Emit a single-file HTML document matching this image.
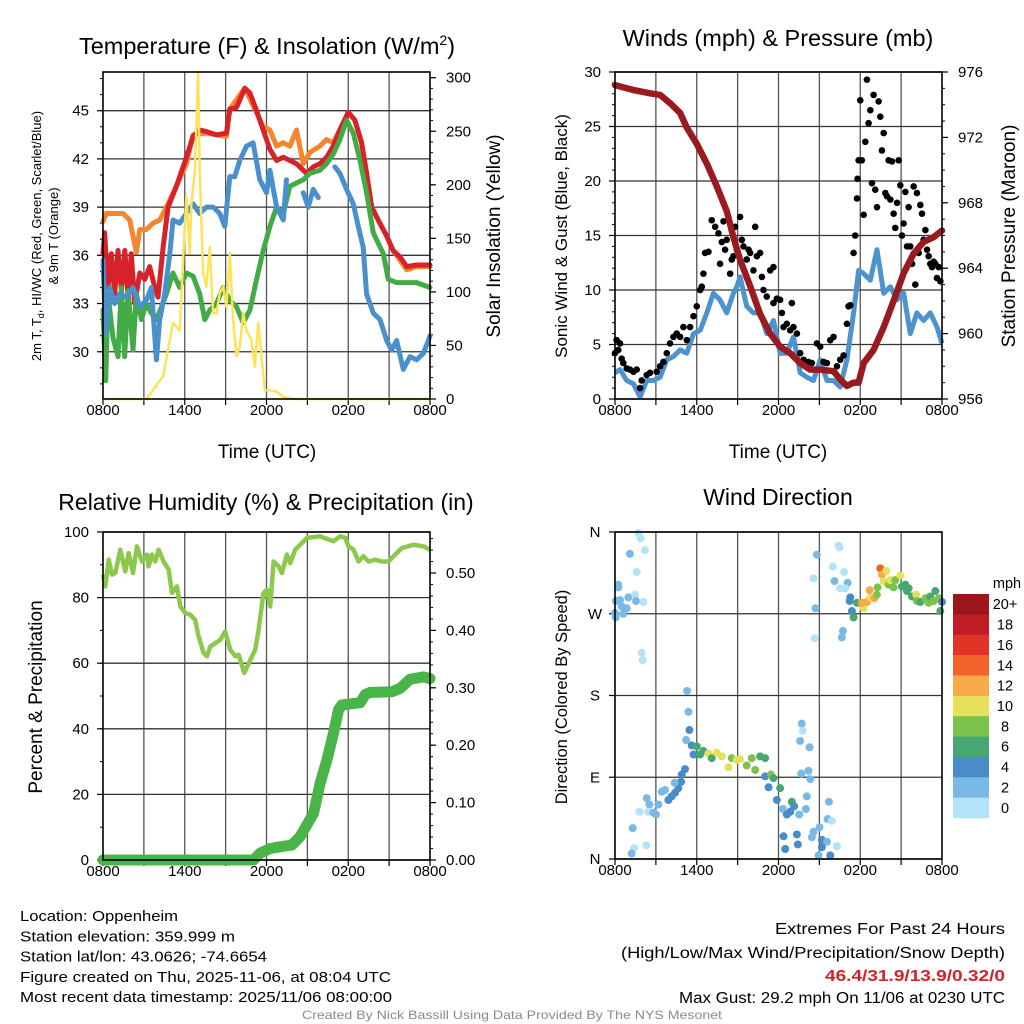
<!DOCTYPE html>
<html><head><meta charset="utf-8"><style>
html,body{margin:0;padding:0;background:#fff;}
svg{display:block;font-family:"Liberation Sans",Arial,sans-serif;}
</style></head>
<body>
<svg id="chart" width="1024" height="1024" viewBox="0 0 1024 1024" xmlns="http://www.w3.org/2000/svg"></svg>
<script>
// ---------- Panel 1 data ----------
const xTickLabels = ["0800","1400","2000","0200","0800"];
const redH = [0,0.12,0.37,0.61,0.86,1.1,1.35,1.6,1.84,2.08,2.33,2.7,3.06,3.43,3.8,4.04,4.41,4.78,5.39,6.12,6.61,7.1,7.59,8.33,9.06,9.31,9.8,10.41,10.78,11.27,11.76,12.25,12.74,13.23,13.72,14.2,14.94,15.43,15.92,16.41,16.9,17.39,18.0,18.49,18.98,19.35,19.72,20.2,20.82,21.29,21.8,22.29,23.02,24];
const redT = [36.1,37.4,34.0,36.1,33.6,36.3,33.8,36.3,33.4,36.1,33.0,34.9,34.5,35.3,34.0,33.4,36.5,39.0,40.3,42.1,43.4,43.8,43.7,43.5,43.6,45.1,45.2,46.4,46.1,45.0,43.8,42.6,41.9,42.1,41.9,41.7,41.1,41.5,41.7,42.1,42.8,43.8,44.9,44.4,43.0,41.1,39.0,38.2,37.2,36.3,35.9,35.3,35.4,35.4];
const orgH = [0,0.24,0.98,1.47,1.96,2.2,2.45,2.7,3.18,3.67,4.16,4.65,5.39,6.12,6.61,7.59,9.06,9.31,10.41,11.76,12.25,12.74,13.23,13.72,14.2,14.7,15.18,15.92,16.41,16.9,18.0,18.49,18.98,19.35,19.72,20.2,20.82,21.29,21.8,22.29,23.02,24];
const orgT = [38.1,38.6,38.6,38.6,38.2,37.2,36.2,37.6,37.6,38.0,38.2,39.0,40.3,41.7,43.5,43.6,43.4,45.1,46.4,44.0,43.8,42.8,43.0,42.8,43.8,41.7,42.4,42.8,43.2,43.0,44.9,44.4,43.0,41.1,39.0,38.2,37.2,36.3,35.7,35.1,35.3,35.3];
const bluH = [0,0.2,0.49,0.86,1.22,1.71,2.2,2.7,3.18,3.55,3.92,4.16,4.53,4.9,5.14,5.63,6.12,6.61,7.1,7.59,8.08,8.57,8.94,9.31,9.67,10.04,10.53,11.02,11.51,12.0,12.25,12.74,13.23,13.47,null,14.7,15.06,15.43,15.8,null,17.02,17.39,17.88,18.37,18.74,19.1,19.35,19.84,20.33,20.82,21.18,21.55,22.04,22.53,23.02,23.51,23.88,24];
const bluT = [35.7,31.1,34.0,33.0,33.6,33.4,34.0,32.8,33.2,34.0,29.5,32.0,33.6,36.1,38.2,38.0,38.6,39.2,38.6,39.0,39.0,38.6,37.8,40.9,40.9,41.9,42.8,43.0,40.7,39.9,41.3,39.0,38.2,40.7,null,39.9,39.0,40.1,39.6,null,41.5,41.1,40.1,39.2,37.8,36.5,33.6,32.4,32.0,30.7,30.1,30.7,28.9,29.7,29.5,29.9,30.7,31.0];
const grnH = [0,0.2,0.37,0.73,1.1,1.35,1.59,1.84,2.2,2.45,2.82,3.18,3.55,3.92,4.29,4.65,5.14,5.63,6.12,6.61,7.1,7.47,7.84,8.33,8.82,9.31,9.8,10.29,10.78,11.27,11.76,12.25,12.74,13.23,13.72,14.2,14.7,15.18,15.92,16.41,16.9,17.39,17.88,18.37,18.86,19.35,19.84,20.57,20.94,21.55,22.29,23.02,24];
const grnT = [32.6,28.2,33.6,30.9,29.7,34.0,29.7,33.8,30.1,33.6,32.0,33.0,32.4,32.0,32.8,33.6,34.9,34.0,34.9,34.7,33.6,32.0,32.6,33.0,34.0,33.2,32.8,31.8,32.6,34.5,36.3,37.8,39.0,38.6,40.3,40.5,40.7,41.1,41.3,41.7,42.3,43.2,44.4,43.6,41.9,39.9,37.4,36.1,34.5,34.3,34.3,34.3,34.0];
const solH = [0,3.18,3.67,4.04,4.41,4.9,5.14,5.63,5.88,6.12,6.37,6.49,6.74,6.98,7.1,7.35,7.59,7.84,8.08,8.33,8.57,8.82,9.06,9.31,9.55,9.8,10.04,10.29,10.53,10.9,11.14,11.39,11.63,11.88,12.25,12.74,13.23,13.96,24];
const solW = [0,0,8,15,21,55,71,64,130,189,136,183,211,305,214,117,105,142,80,80,99,105,86,136,74,40,49,80,64,55,30,71,40,8,8,7,2,0,0];
const tempTicks = [30,33,36,39,42,45];
const solTicks = [0,50,100,150,200,250,300];
// ---------- Panel 2 data ----------
const presH = [0,1.35,2.57,3.31,4.04,4.78,5.27,6.0,6.74,7.47,8.2,8.69,9.18,9.92,10.65,11.39,12.12,12.86,13.59,14.33,15.06,16.04,16.53,17.02,17.51,17.88,18.25,18.98,19.72,20.45,21.19,21.92,22.65,23.39,24];
const presMb = [975.2,974.9,974.7,974.6,974.1,973.5,972.6,971.6,970.4,969.0,967.5,965.9,964.5,962.9,961.2,960.0,959.2,958.8,958.2,957.8,957.8,957.7,957.2,956.8,957.0,957.0,958.2,959.0,960.4,962.0,963.7,964.9,965.6,965.9,966.3];
const windH = [0,0.37,0.86,1.35,1.84,2.33,2.82,3.31,3.8,4.29,4.78,5.27,5.76,6.25,6.74,7.22,7.71,8.2,8.69,8.94,9.18,9.67,10.16,10.65,11.14,11.63,12.12,12.61,13.1,13.59,14.08,14.57,15.06,15.55,16.04,16.53,17.02,17.51,17.88,18.25,18.74,19.23,19.72,20.21,20.7,21.19,21.67,22.16,22.65,23.14,23.63,24];
const windMph = [2.4,2.7,1.7,1.4,0.2,1.7,1.7,2.0,3.6,3.9,4.5,4.2,6.0,6.3,7.9,9.7,9.1,7.9,9.7,10.3,11.2,8.5,7.9,7.9,6.0,7.2,4.2,4.2,5.7,2.4,2.0,1.7,3.6,1.7,1.7,1.1,3.6,7.9,11.8,11.5,10.9,13.7,9.7,10.3,9.1,9.7,6.0,7.9,7.2,7.9,6.6,5.1];
const gustH = [0,0.12,0.37,0.24,0.49,0.61,0.86,1.1,1.35,1.59,1.84,1.96,2.33,2.57,3.06,3.31,3.55,3.8,4.04,4.29,4.53,4.78,5.02,5.27,5.51,5.76,6.0,6.25,6.37,6.49,6.61,6.86,7.1,7.35,7.59,7.71,7.84,7.96,8.08,8.2,8.45,8.57,8.69,8.82,8.94,9.18,9.31,9.43,9.67,9.8,9.92,10.16,10.29,10.41,10.65,10.78,10.9,11.14,11.39,11.63,11.63,11.88,12.12,12.25,12.37,12.61,12.86,12.98,13.1,13.35,13.59,13.84,14.2,14.45,14.82,15.06,15.31,15.55,15.8,16.04,16.29,16.53,16.78,17.02,17.14,17.27,17.51,17.63,17.76,17.8,17.88,18.0,18.12,18.25,18.37,18.49,18.61,18.74,18.86,18.98,19.1,19.23,19.35,19.47,19.59,19.72,19.84,19.96,20.08,20.21,20.33,20.45,20.57,20.7,20.82,20.94,21.06,21.18,21.31,21.43,21.55,21.67,21.8,21.92,22.04,22.16,22.29,22.41,22.53,22.65,22.78,22.9,23.02,23.14,23.27,23.39,23.51,23.63,23.76,23.88];
const gustMph = [4.2,5.4,5.1,4.5,3.7,3.3,2.8,2.7,2.5,2.7,1.0,1.7,2.2,2.4,2.5,3.0,3.4,4.2,5.1,5.7,6.0,5.7,6.6,5.4,6.6,7.6,8.5,10.0,10.3,11.5,13.4,13.5,16.4,15.8,15.2,12.4,14.4,16.3,13.7,14.6,11.5,12.8,13.1,15.8,13.7,16.7,14.6,14.0,12.8,13.7,13.4,11.8,15.8,13.1,13.4,11.2,10.0,9.4,11.8,12.1,8.8,9.2,9.1,7.9,6.6,6.9,6.3,8.8,6.6,6.0,4.2,3.6,3.4,3.3,5.1,4.8,3.4,3.3,5.4,5.7,3.0,3.6,4.0,6.9,8.5,8.6,13.4,15.0,18.4,20.2,21.9,27.4,21.9,16.9,23.6,29.3,25.3,26.5,19.8,27.9,19.2,17.6,27.3,25.9,22.8,24.4,18.9,18.6,21.9,18.3,21.8,17.0,15.7,18.0,21.9,19.6,15.0,16.1,19.0,14.0,17.6,14.0,12.4,19.5,10.5,18.9,13.4,17.8,17.0,14.6,15.5,13.7,13.1,12.4,12.1,12.6,12.4,11.1,12.1,10.8];
const windTicks = [0,5,10,15,20,25,30];
const presTicks = [956,960,964,968,972,976];
// ---------- Panel 3 data ----------
const rhH = [0,0.17,0.42,0.66,0.9,1.27,1.64,1.88,2.2,2.49,2.86,3.23,3.35,3.59,3.84,4.08,4.45,4.82,5.06,5.43,5.67,6.04,6.41,6.77,7.02,7.38,7.63,7.87,8.24,8.61,8.97,9.34,9.71,9.95,10.37,10.81,11.17,11.42,11.78,12.03,12.27,12.52,12.89,13.13,13.5,13.74,14.11,14.47,14.96,15.94,16.43,16.92,17.41,17.78,18.02,18.39,18.75,19.12,19.49,19.98,20.46,20.95,21.32,21.93,22.79,23.52,24];
const rhPct = [87,83.4,91.6,87,87.5,94.6,88,93.6,87.5,95.6,91,93.1,89.5,93.1,91,94.6,91,88.5,81.4,83.4,77.3,75.3,74.8,73.2,68.2,63.1,62.1,65.1,66.1,67.1,69.7,64.1,62.1,62.6,57,61,64.1,70.2,81.4,82.4,77.3,91,89.5,87.5,93.1,90.5,94.6,96.1,98.2,98.7,97.9,97.2,98.7,98.2,95.6,94.6,91,92.6,91,91.6,91,91,92.6,95.1,96.1,95.6,94.6];
const prH = [0,11.05,11.54,12.27,13.0,13.86,14.47,14.96,15.45,15.94,16.43,16.92,17.29,17.53,18.14,18.88,19.24,19.61,21.2,21.81,22.54,23.52,24];
const prIn = [0,0,0.012,0.02,0.023,0.026,0.041,0.061,0.081,0.134,0.174,0.221,0.262,0.27,0.272,0.274,0.288,0.292,0.293,0.299,0.315,0.319,0.316];
const rhTicks = [0,20,40,60,80,100];
const prTicks = [0,0.1,0.2,0.3,0.4,0.5];
// ---------- Panel 4 data ----------
const wdH = [1.71,1.89,2.2,1.1,1.59,0.24,0.24,0.07,0.37,0.98,1.47,1.54,2.08,0.49,0.86,0.61,0,0.05,1.96,2.03,5.29,5.39,5.46,5.22,5.63,5.76,6.0,6.25,6.49,6.86,7.1,7.47,7.84,8.33,8.57,8.94,9.18,9.67,10.04,10.29,10.65,11.02,11.02,11.44,11.63,11.27,12.12,11.88,12.98,12.32,12.61,12.86,13.15,13.52,12.37,12.49,13.35,13.42,13.71,13.79,13.59,14.28,13.67,14.2,14.33,14.08,14.01,14.57,14.45,15.01,15.18,15.55,15.18,15.8,14.94,16.29,15.7,15.6,15.92,2.33,2.52,2.45,2.82,3.18,3.43,3.67,3.92,4.16,4.41,4.65,4.85,4.9,5.14,4.38,1.79,1.3,1.4,1.22,2.3,3.01,14.82,14.57,14.72,14.65,16.41,16.48,15.99,16.82,16.11,17.07,16.53,16.9,17.27,17.22,17.39,17.51,16.73,16.65,17.76,18.25,18.12,18.49,18.73,18.69,19.03,19.22,19.27,19.47,19.59,19.91,19.71,20.08,20.2,20.57,20.45,20.94,21.06,21.31,21.55,21.43,21.8,22.11,22.16,22.41,22.78,23.02,23.14,23.51,23.39,23.76,23.88,24];
const wdDeg = [359,353,340,336,316,302,299,284,285,288,291,284,283,278,276,270,271,266,227,219,185,162,142,131,125,115,124,115,119,116,111,117,113,101,111,109,110,103,111,98,113,111,91,93,89,79,78,65,63,55,49,52,58,49,25,11,27,16,149,141,130,123,94,97,88,69,55,30,24,35,21,19,13,4,4,14,63,44,42,67,60,52,51,60,74,76,65,69,73,78,85,93,99,84,52,34,12,6,15,49,335,309,276,243,345,343,322,316,306,304,298,298,288,284,273,266,251,244,282,276,282,283,288,296,287,291,299,320,313,317,306,302,307,307,299,312,300,302,298,295,289,291,284,283,287,282,289,295,284,287,273,283];
const wdSpd = [1,1,1,3,1,3,3,3,3,3,1,3,1,3,3,3,3,3,1,1,3,3,5,3,5,5,7,7,7,11,7,11,11,11,9,11,11,9,9,9,7,7,5,9,7,5,7,5,7,3,5,5,5,3,5,5,5,5,3,1,3,3,3,3,3,3,3,3,3,3,5,3,5,5,3,1,3,3,1,3,3,1,3,3,3,3,5,5,5,5,5,5,5,3,1,3,1,3,1,3,3,1,3,1,1,1,1,1,3,3,1,1,5,5,5,7,3,3,7,11,13,13,11,13,13,9,9,15,13,11,11,9,11,9,9,11,7,7,7,7,7,11,9,7,9,9,7,7,9,9,7,5];
const dirLabels = ["N","W","S","E","N"];
const dirTicks = [360,270,180,90,0];
const speedLabels = ["20+","18","16","14","12","10","8","6","4","2","0"];
const speedColors = ["#9b171c","#c01d25","#e0332a","#f0632a","#f8a948","#e6e15a","#7cc24c","#48a673","#4a8cc7","#7ab9e5","#b3e3f8"];

// ---------- helpers ----------
const NS = "http://www.w3.org/2000/svg";
const svg = document.getElementById("chart");
function mk(tag, attrs, parent){
  const e = document.createElementNS(NS, tag);
  for (const k in attrs) e.setAttribute(k, attrs[k]);
  (parent || svg).appendChild(e);
  return e;
}
function txt(str, x, y, size, anchor, parent, extra){
  const t = mk("text", Object.assign({x:x, y:y, "font-size":size, "text-anchor":anchor||"middle", fill:"#000"}, extra||{}), parent);
  t.textContent = str;
  return t;
}
function linePath(hs, vs, xf, yf){
  let d = "", pen = false;
  for (let i=0;i<hs.length;i++){
    if (hs[i]===null || vs[i]===null){ pen=false; continue; }
    d += (pen ? "L" : "M") + xf(hs[i]).toFixed(1) + "," + yf(vs[i]).toFixed(1);
    pen = true;
  }
  return d;
}

function frame(g, L, T, R, B, xf, hGridYs){
  for (let h=3; h<24; h+=3){
    const gl = mk("line",{x1:xf(h),x2:xf(h),y1:T,y2:B,stroke:"#555","stroke-width":1.3},g);
    
    
  }
  hGridYs.forEach(y=>{
    const gl = mk("line",{x1:L,x2:R,y1:y,y2:y,stroke:"#333","stroke-width":1.3},g);
    
    
  });
  for (let h=0; h<=24; h+=3){
    const tk = mk("line",{x1:xf(h),x2:xf(h),y1:B,y2:B+6,stroke:"#000","stroke-width":1.2},g);
    
    
  }
  xTickLabels.forEach((lab,i)=>{
    const t = txt(lab, xf(i*6), B+16, 15, "middle", g);
    
    
  });
}
function border(g,L,T,R,B){
  const r = mk("rect",{x:L,y:T,width:R-L,height:B-T,fill:"none",stroke:"#000","stroke-width":1.6},g);
  
  
}
function ticksLeft(g, L, vals, yf, minorVals, fmt){
  vals.forEach(v=>{
    const tk = mk("line",{x1:L-6,x2:L,y1:yf(v),y2:yf(v),stroke:"#000","stroke-width":1.2},g);
    
    
    const t = txt(fmt?fmt(v):String(v), L-14, yf(v)+5, 15, "end", g);
    
    
  });
  minorVals.forEach(v=>{
    const tk = mk("line",{x1:L-3,x2:L,y1:yf(v),y2:yf(v),stroke:"#000","stroke-width":1},g);
    
    
  });
}
function ticksRight(g, R, vals, yf, minorVals, fmt){
  vals.forEach(v=>{
    const tk = mk("line",{x1:R,x2:R+6,y1:yf(v),y2:yf(v),stroke:"#000","stroke-width":1.2},g);
    
    
    const t = txt(fmt?fmt(v):String(v), R+16, yf(v)+5, 15, "start", g);
    
    
  });
  minorVals.forEach(v=>{
    const tk = mk("line",{x1:R,x2:R+3,y1:yf(v),y2:yf(v),stroke:"#000","stroke-width":1},g);
    
    
  });
}
function range(a,b,s){ const r=[]; for(let v=a; v<=b+1e-9; v+=s) r.push(+v.toFixed(4)); return r; }

// ================= Panel 1 =================
(function(){
  const L=103,R=430,T=72,B=399;
  const xf = h => L + h*(R-L)/24;
  const yT = t => 110.7 + (45-t)*16.07;
  const yI = v => B - v*(B-77.7)/300;
  const g = mk("g",{});
  
  
  frame(g,L,T,R,B,xf,tempTicks.map(yT));
  ticksLeft(g,L,tempTicks,yT,range(28,47,1));
  ticksRight(g,R,solTicks,yI,range(0,300,10));
  const series = [
    [orgH,orgT,"#f5862d",5,"orange-9m-temp-line"],
    [redH,redT,"#d7222a",5,"red-2m-temp-line"],
    [grnH,grnT,"#43ab45",5,"green-heat-index-line"],
    [bluH,bluT,"#4990cc",5,"blue-dewpoint-line"]
  ];
  series.forEach(s=>{
    const p = mk("path",{d:linePath(s[0],s[1],xf,yT),fill:"none",stroke:s[2],"stroke-width":s[3],"stroke-linejoin":"round","stroke-linecap":"round"},g);
    
    
  });
  const sol = mk("path",{d:linePath(solH,solW,xf,yI),fill:"none",stroke:"#fde35a","stroke-width":2.5,"stroke-linejoin":"round"},g);
  
  
  border(g,L,T,R,B);
  const t1 = mk("text",{x:267,y:54,"font-size":23.5,"text-anchor":"middle"},g);
  t1.innerHTML = 'Temperature (F) &amp; Insolation (W/m<tspan dy="-9" font-size="14">2</tspan><tspan dy="9">)</tspan>';
  
  
  const yt1 = txt("2m T, T", 0, 0, 13, "middle", g, {transform:"translate(41,236) rotate(-90)"});
  yt1.innerHTML = '2m T, T<tspan font-size="9" dy="3">d</tspan><tspan dy="-3">, HI/WC (Red, Green, Scarlet/Blue)</tspan>';
  
  
  const yt2 = txt("& 9m T (Orange)", 0, 0, 13, "middle", g, {transform:"translate(58,236) rotate(-90)"});
  
  
  const yr = txt("Solar Insolation (Yellow)", 0, 0, 19, "middle", g, {transform:"translate(500,236) rotate(-90)"});
  
  
  const xt = txt("Time (UTC)", 267, 458, 19, "middle", g);
  
  
})();

// ================= Panel 2 =================
(function(){
  const L=615,R=942,T=72,B=399;
  const xf = h => L + h*(R-L)/24;
  const yW = m => B - m*(B-T)/30;
  const yP = p => B - (p-956)*(B-T)/20;
  const g = mk("g",{});
  
  
  frame(g,L,T,R,B,xf,windTicks.map(yW));
  ticksLeft(g,L,windTicks,yW,range(0,30,1));
  ticksRight(g,R,presTicks,yP,range(956,976,1));
  const w = mk("path",{d:linePath(windH,windMph,xf,yW),fill:"none",stroke:"#4d94cf","stroke-width":5,"stroke-linejoin":"round"},g);
  
  
  gustH.forEach((h,i)=>{
    const c = mk("circle",{cx:xf(h),cy:yW(gustMph[i]),r:3.3,fill:"#000"},g);
    
    
  });
  const p = mk("path",{d:linePath(presH,presMb,xf,yP),fill:"none",stroke:"#9a1b1f","stroke-width":6.5,"stroke-linejoin":"round","stroke-linecap":"round"},g);
  
  
  border(g,L,T,R,B);
  const t = txt("Winds (mph) & Pressure (mb)", 778, 46, 23.5, "middle", g);
  
  
  const yl = txt("Sonic Wind & Gust (Blue, Black)", 0, 0, 17, "middle", g, {transform:"translate(567,236) rotate(-90)"});
  
  
  const yr = txt("Station Pressure (Maroon)", 0, 0, 19, "middle", g, {transform:"translate(1015,236) rotate(-90)"});
  
  
  const xt = txt("Time (UTC)", 778, 458, 19, "middle", g);
  
  
})();

// ================= Panel 3 =================
(function(){
  const L=103,R=430,T=532,B=860;
  const xf = h => L + h*(R-L)/24;
  const yR = v => B - v*(B-T)/100;
  const yPr = v => B - v*574;
  const g = mk("g",{});
  
  
  frame(g,L,T,R,B,xf,rhTicks.map(yR));
  ticksLeft(g,L,rhTicks,yR,range(0,100,10));
  ticksRight(g,R,prTicks,yPr,range(0,0.56,0.02),v=>v.toFixed(2));
  const rh = mk("path",{d:linePath(rhH,rhPct,xf,yR),fill:"none",stroke:"#8cc84b","stroke-width":4.5,"stroke-linejoin":"round"},g);
  
  
  const pr = mk("path",{d:linePath(prH,prIn,xf,yPr),fill:"none",stroke:"#49b548","stroke-width":11,"stroke-linejoin":"round","stroke-linecap":"round"},g);
  
  
  border(g,L,T,R,B);
  const t = txt("Relative Humidity (%) & Precipitation (in)", 266, 510, 23, "middle", g);
  
  
  const yl = txt("Percent & Precipitation", 0, 0, 19, "middle", g, {transform:"translate(42,697) rotate(-90)"});
  
  
})();

// ================= Panel 4 =================
(function(){
  const L=615,R=942,T=532,B=859;
  const xf = h => L + h*(R-L)/24;
  const yD = d => B - d*(B-T)/360;
  const g = mk("g",{});
  
  
  frame(g,L,T,R,B,xf,dirTicks.map(yD));
  dirTicks.forEach((d,i)=>{
    const tk = mk("line",{x1:L-6,x2:L,y1:yD(d),y2:yD(d),stroke:"#000","stroke-width":1.2},g);
    
    
    const t = txt(dirLabels[i], L-20, yD(d)+5, 15, "middle", g);
    
    
  });
  wdH.forEach((h,i)=>{
    const idx = 10 - Math.min(10, Math.floor(wdSpd[i]/2));
    const c = mk("circle",{cx:xf(h),cy:yD(wdDeg[i]),r:4,fill:speedColors[idx]},g);
    
    
  });
  border(g,L,T,R,B);
  const t = txt("Wind Direction", 778, 505, 23, "middle", g);
  
  
  const yl = txt("Direction (Colored By Speed)", 0, 0, 16.5, "middle", g, {transform:"translate(567,697) rotate(-90)"});
  
  
  const cb = mk("g",{},g);
  
  
  const bh = (818-594)/speedLabels.length;
  speedLabels.forEach((lab,i)=>{
    const r = mk("rect",{x:953,y:594+i*bh,width:36,height:bh+0.3,fill:speedColors[i]},cb);
    
    
    const tl = txt(lab, 1005, 594+i*bh+bh/2+5, 14.5, "middle", cb);
    
    
  });
  const mph = txt("mph", 1007, 588, 14.5, "middle", cb);
  
  
})();

// ================= Footer =================
(function(){
  const g = mk("g",{});
  
  
  const left = ["Location: Oppenheim","Station elevation: 359.999 m","Station lat/lon: 43.0626; -74.6654","Figure created on Thu, 2025-11-06, at 08:04 UTC","Most recent data timestamp: 2025/11/06 08:00:00"];
  const lw = [158,215,247,371,372];
  left.forEach((s,i)=>{
    const t = txt(s, 20, 921+i*20.3, 15, "start", g, {textLength:lw[i], lengthAdjust:"spacingAndGlyphs"});
    
    
  });
  const t1 = txt("Extremes For Past 24 Hours", 1005, 934, 15.5, "end", g, {textLength:230, lengthAdjust:"spacingAndGlyphs"});
  
  
  const t2 = txt("(High/Low/Max Wind/Precipitation/Snow Depth)", 1005, 958, 15.5, "end", g, {textLength:384, lengthAdjust:"spacingAndGlyphs"});
  
  
  const t3 = txt("46.4/31.9/13.9/0.32/0", 1005, 981, 15.5, "end", g, {fill:"#d1232a","font-weight":"bold",textLength:180, lengthAdjust:"spacingAndGlyphs"});
  
  
  const t4 = txt("Max Gust: 29.2 mph On 11/06 at 0230 UTC", 1005, 1003, 15.5, "end", g, {textLength:326, lengthAdjust:"spacingAndGlyphs"});
  
  
  const t5 = txt("Created By Nick Bassill Using Data Provided By The NYS Mesonet", 512, 1019, 12, "middle", g, {fill:"#8a8a8a",textLength:420, lengthAdjust:"spacingAndGlyphs"});
  
  
})();
</script>
</body></html>
